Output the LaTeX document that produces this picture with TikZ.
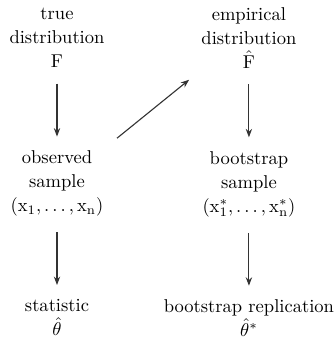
\documentclass[tikz,border=0pt]{standalone}
\usepackage{amsmath}
\usepackage{tikz}
\usetikzlibrary{arrows.meta,positioning}

\begin{document}
\begin{tikzpicture}[
		x=0.5394pt, y=0.5394pt,
		node distance=1.32cm and 1.59cm,
		box/.style={align=center, font=\fontsize{10}{13}\selectfont},
		arrow/.style={-{Stealth[length=1.6mm, width=1.2mm]}, line width=0.6pt, black!80, shorten <=5pt, shorten >=4pt}
	]
		\useasboundingbox (0,0) rectangle (336,-337);
		\node[box] (truth) at (57,-38) {true\\distribution\\$\mathrm{F}$};
		\node[box, right=of truth] (empirical) {empirical\\distribution\\$\hat{\mathrm{F}}$};
		\node[box, below=of truth] (observed) {observed\\sample\\$(\mathrm{x}_1,\ldots,\mathrm{x}_\mathrm{n})$};
		\node[box, below=of empirical] (resample) {bootstrap\\sample\\$(\mathrm{x}_1^*,\ldots,\mathrm{x}_\mathrm{n}^*)$};
		\node[box, below=of observed] (statistic) {statistic\\$\hat{\theta}$};
		\node[box, below=of resample] (replication) {bootstrap replication\\$\hat{\theta}^*$};
		\draw[arrow] (truth) -- (observed);
		\draw[arrow] (observed.north east) -- (empirical.south west);
		\draw[arrow] (empirical) -- (resample);
		\draw[arrow] (observed) -- (statistic);
		\draw[arrow] (resample) -- (replication);
	\end{tikzpicture}
\end{document}
